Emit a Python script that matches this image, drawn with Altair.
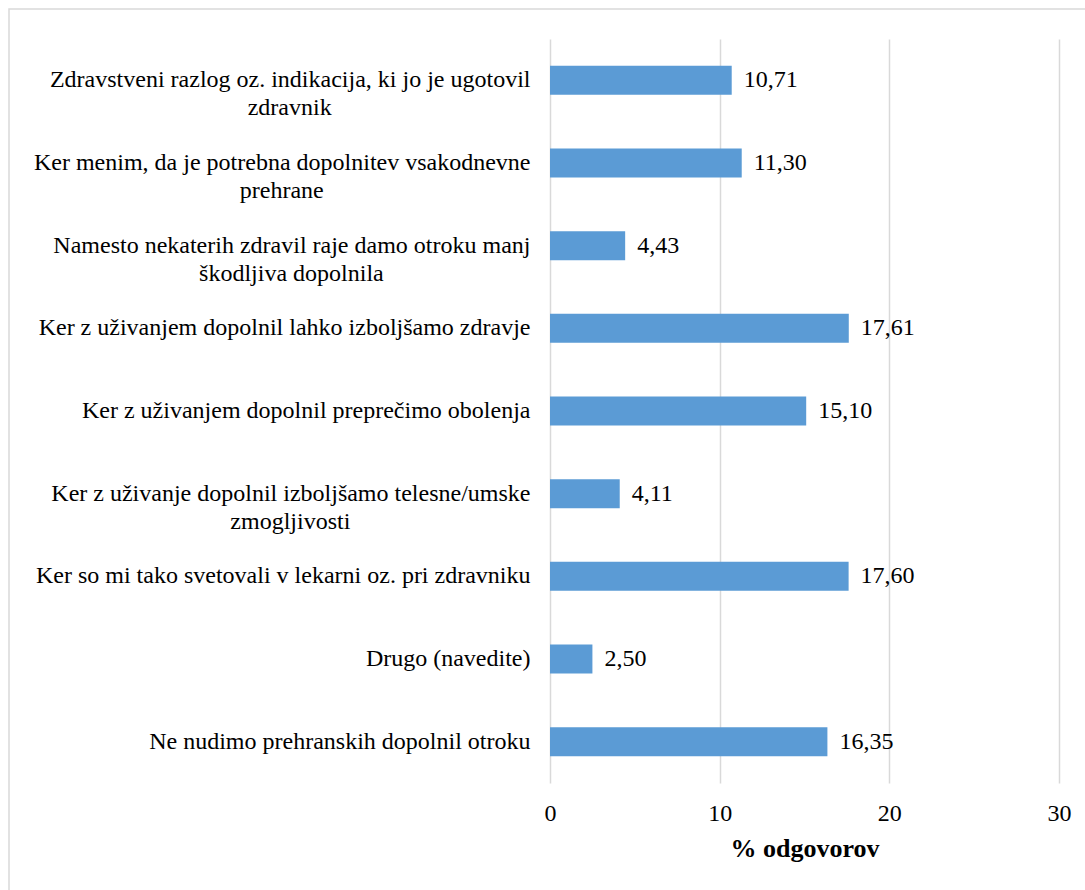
import re
import altair as alt
import pandas as pd

categories = [
    "Zdravstveni razlog oz. indikacija, ki jo je ugotovil\nzdravnik",
    "Ker menim, da je potrebna  dopolnitev vsakodnevne\nprehrane",
    "Namesto nekaterih zdravil raje damo otroku manj\nškodljiva dopolnila",
    "Ker z uživanjem dopolnil lahko izboljšamo zdravje",
    "Ker z uživanjem dopolnil preprečimo obolenja",
    "Ker z uživanje dopolnil izboljšamo telesne/umske\nzmogljivosti",
    "Ker so mi tako svetovali v lekarni oz. pri zdravniku",
    "Drugo (navedite)",
    "Ne nudimo prehranskih dopolnil otroku",
]
values = [10.71, 11.30, 4.43, 17.61, 15.10, 4.11, 17.60, 2.50, 16.35]
x_ticks = [0, 10, 20, 30]
x_title = "% odgovorov"

FONT = "Times New Roman, Liberation Serif, serif"
CAT_FS = 24
W, H = 509, 744
X_MAX = 30
LABEL_PAD = 20

# Times / Liberation Serif advance widths (per 1000 em), used to centre wrapped lines
ADV = {" ": 250, ",": 250, ".": 250, "/": 278, "(": 333, ")": 333,
       "a": 444, "b": 500, "c": 444, "d": 500, "e": 444, "f": 333, "g": 500, "h": 500,
       "i": 278, "j": 278, "k": 500, "l": 278, "m": 778, "n": 500, "o": 500, "p": 500,
       "q": 500, "r": 333, "s": 389, "t": 278, "u": 500, "v": 500, "w": 722, "x": 500,
       "y": 500, "z": 444, "š": 389, "č": 444, "ž": 444,
       "K": 722, "Z": 611, "N": 722, "D": 722}


def adv(s):
    return sum(ADV.get(ch, 500) for ch in re.sub(" +", " ", s))


first_lines, second_lines, centres = [], [], []
for c in categories:
    lines = c.split("\n")
    if len(lines) == 1:
        first_lines.append(c)
        second_lines.append("")
        centres.append(0.0)
    else:
        first_lines.append(lines[0] + "\n")
        second_lines.append("\n" + lines[1])
        half_px = LABEL_PAD + adv(lines[0]) * CAT_FS / 1000 / 2
        centres.append(-half_px * X_MAX / W)

df = pd.DataFrame({
    "kat": first_lines,
    "line2": second_lines,
    "cx": centres,
    "val": values,
    "txt": [f"{v:.2f}".replace(".", ",") for v in values],
})
order = list(df["kat"])

y_enc = alt.Y(
    "kat:N", sort=order,
    scale=alt.Scale(paddingInner=0, paddingOuter=0),
    axis=alt.Axis(title=None, labelExpr="split(datum.label, '\\n')", labelFont=FONT,
                  labelFontSize=CAT_FS, labelColor="#000000", labelLineHeight=28,
                  labelPadding=LABEL_PAD, labelLimit=1000, labelOverlap=False,
                  ticks=False, domain=False, grid=False),
)

x_enc = alt.X(
    "val:Q", scale=alt.Scale(domain=[0, X_MAX], nice=False, clamp=False),
    axis=alt.Axis(values=x_ticks, format="d", title=x_title, labelFont=FONT,
                  labelFontSize=24, labelColor="#000000", labelPadding=18,
                  labelFlush=False, labelOverlap=False,
                  ticks=False, domain=False, gridColor="#D9D9D9", gridWidth=1.5,
                  titleFont=FONT, titleFontSize=26, titleFontWeight="bold",
                  titleColor="#000000", titlePadding=10),
)

base = alt.Chart(df)
bars = base.mark_bar(size=29, color="#5B9BD5").encode(y=y_enc, x=x_enc)
text = base.mark_text(align="left", baseline="middle", dx=12, font=FONT,
                      fontSize=24, color="#000000").encode(
    y=alt.Y("kat:N", sort=order), x=alt.X("val:Q"), text="txt:N")

second = base.transform_filter("datum.line2 != ''").mark_text(
    align="center", baseline="middle", font=FONT, fontSize=CAT_FS, lineHeight=28,
    lineBreak="\n", color="#000000").encode(
    y=alt.Y("kat:N", sort=order), x=alt.X("cx:Q"), text="line2:N")

frame = alt.Chart(pd.DataFrame({"f": [0]})).mark_rect(
    fill="transparent", stroke="#D9D9D9", strokeWidth=1.5).encode(
    x=alt.value(-541), x2=alt.value(600), y=alt.value(-30), y2=alt.value(900))

chart = alt.layer(bars, text, second, frame).properties(
    width=W, height=H,
    padding={"left": 550, "top": 39, "right": 26, "bottom": 107},
    autosize=alt.AutoSizeParams(type="none"),
    background="#FFFFFF",
).configure_view(stroke=None)

chart.save("out.html", embed_options={"renderer": "svg", "actions": False})
